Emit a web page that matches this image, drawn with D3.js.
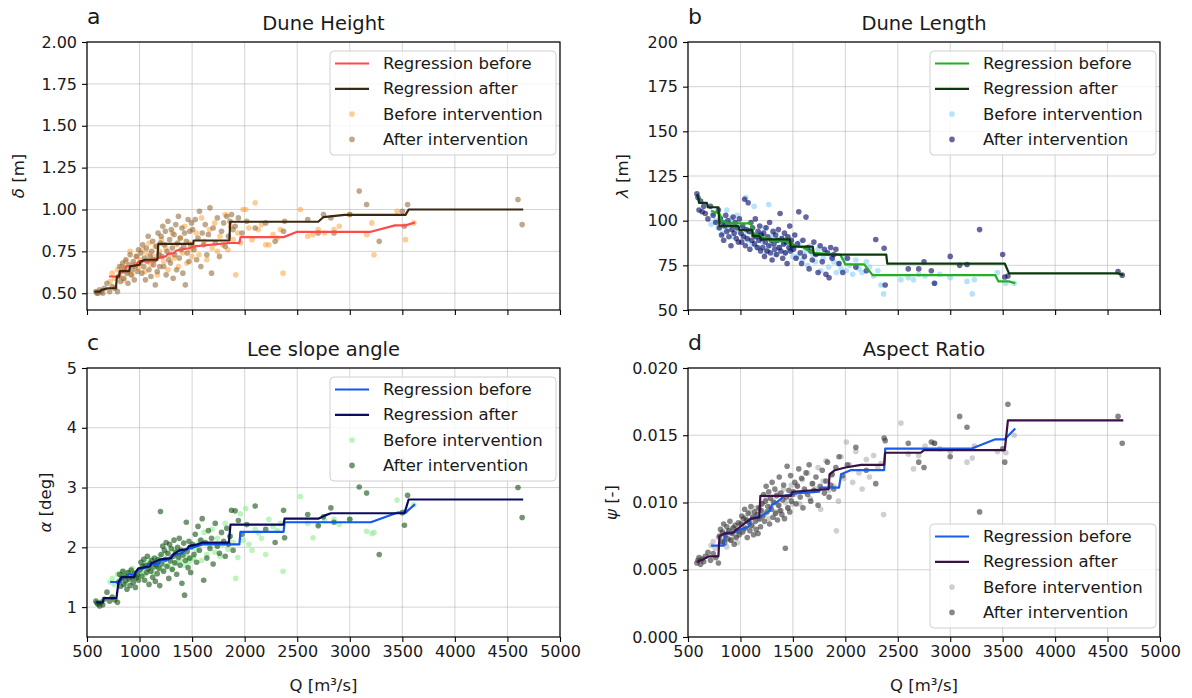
<!DOCTYPE html>
<html><head><meta charset="utf-8">
<script src="https://cdn.jsdelivr.net/npm/d3@7"></script>
<style>body{margin:0;background:#fff;} text{font-family:"DejaVu Sans",sans-serif;}</style>
</head><body><svg id="c" width="1192" height="698"></svg>
<script>
// ---------- data ----------
const xTicks = [500,1000,1500,2000,2500,3000,3500,4000,4500,5000];
const yTicksHeight = [0.5,0.75,1.0,1.25,1.5,1.75,2.0];
const yTicksLength = [50,75,100,125,150,175,200];
const yTicksAngle = [1,2,3,4,5];
const yTicksRatio = [0,0.005,0.01,0.015,0.02];

const qAfter = [585,595,605,620,635,650,665,690,715,740,765,790,
800,810,820,830,840,850,860,870,880,890,900,910,920,930,940,950,960,970,980,990,
1005,1013,1022,1030,1040,1048,1056,1065,1074,1082,1090,1100,1108,1116,1125,1134,1142,1150,1160,1168,1176,1184,1192,1199,
1205,1213,1221,1229,1237,1245,1253,1261,1270,1278,1286,1294,1302,1311,1320,1328,1336,1345,1353,1362,1370,1378,1386,1395,1403,1412,1420,1428,1436,1445,1453,1462,1470,1478,1486,1495,
1505,1518,1530,1543,1556,1570,1583,1596,1610,1625,1640,1655,1670,1685,1700,1720,1740,1760,1780,1800,1815,1830,1845,1860,1875,1890,
1910,1940,1975,2020,2100,2200,
2290,2370,2380,2600,2700,2750,2820,2850,3000,3090,3160,3280,3500,3520,3550,4600,4640];

const qBefore = [720,740,760,790,810,830,850,870,890,910,930,950,970,990,
1010,1030,1050,1070,1090,1110,1130,1150,1170,1190,1210,1230,1250,1270,1290,1310,1330,1350,1370,1390,1410,1430,1450,1470,1485,1498,
1515,1540,1565,1590,1615,1640,1665,1690,1715,1740,1765,1790,1815,1840,1865,1890,1915,1935,1960,1985,
2010,2040,2070,2100,2130,2160,2200,2230,2270,2310,2340,2365,
2530,2600,2650,2700,2760,2850,2900,3000,3160,3210,3230,3450,3530,3610];

const heightAfter = [0.51,0.50,0.50,0.52,0.51,0.50,0.53,0.56,0.51,0.54,0.53,0.51,
0.60,0.66,0.57,0.63,0.68,0.59,0.65,0.70,0.62,0.56,0.67,0.73,0.61,0.64,0.69,0.58,0.66,0.72,0.63,0.76,
0.68,0.74,0.62,0.79,0.66,0.71,0.58,0.77,0.69,0.84,0.64,0.72,0.60,0.75,0.81,0.67,0.70,0.55,0.78,0.63,0.86,0.73,0.66,0.80,
0.84,0.72,0.90,0.66,0.79,0.87,0.61,0.75,0.93,0.70,0.82,0.68,0.88,0.77,0.59,0.85,0.73,0.91,0.64,0.80,0.96,0.71,0.83,0.76,0.89,0.62,0.78,0.86,0.55,0.81,0.74,0.94,0.69,0.87,0.79,0.92,
0.88,0.76,0.94,0.70,0.83,0.99,0.66,0.86,0.79,0.91,0.73,0.85,1.01,0.62,0.89,0.80,0.95,0.72,0.87,0.92,0.78,0.96,0.84,0.93,0.97,0.88,
0.90,0.95,0.86,0.93,0.89,0.92,
0.81,0.87,0.93,0.94,0.86,0.97,0.95,0.86,0.97,1.11,1.03,0.81,0.99,0.90,1.03,1.06,0.91];
const heightBefore = [0.57,0.62,0.59,0.64,0.60,0.66,0.58,0.69,0.63,0.75,0.61,0.67,0.72,0.65,
0.70,0.76,0.63,0.74,0.80,0.67,0.72,0.78,0.61,0.75,0.82,0.69,0.77,0.64,0.73,0.86,0.71,0.79,0.66,0.83,0.74,0.90,0.68,0.80,0.76,0.72,
0.78,0.86,0.73,0.95,0.81,0.70,0.88,0.77,0.92,0.75,0.84,0.79,0.97,0.76,0.90,0.82,0.61,0.86,0.80,1.00,
1.00,0.89,0.82,1.04,0.88,0.91,0.79,0.79,0.85,0.83,0.88,0.62,
1.00,0.84,0.85,0.88,0.86,0.88,0.90,0.97,0.85,0.92,0.73,0.99,0.82,0.92];

const lengthAfter = [115,113,106,111,105,108,104,101,108,103,99,106,
96,101,92,99,89,97,103,94,100,91,98,86,95,102,93,99,90,96,88,101,
93,88,97,91,112,86,95,90,110,94,84,99,89,96,92,87,101,91,85,94,89,97,83,92,
90,85,93,80,88,96,83,91,86,99,82,89,78,94,87,84,92,81,89,95,85,104,83,90,79,87,93,82,88,76,91,85,97,83,89,86,
84,92,79,87,105,82,76,89,80,102,85,73,83,78,88,81,71,86,77,84,70,82,68,85,79,81,
84,76,71,79,74,72,
89.5,84.5,64,73,73,77,72,65,80,75,75.5,95,81,68.5,69,71.5,69.5];
const lengthBefore = [98,104,100,96,102,93,99,106,95,101,91,97,103,94,
96,92,113,89,94,87,108,91,85,93,88,96,83,109,86,92,81,89,85,90,87,82,90,84,88,80,
85,80,88,78,83,75,86,81,77,84,72,79,82,74,80,77,71,76,73,79,
72,75,70,78,73,71,77,74,69,72,64,59,
67,68,67,70,69,65,70,68,66,59,67,71,65,65];

const angleAfter = [1.10,1.07,1.05,1.02,1.08,1.04,1.13,1.25,1.10,1.17,1.12,1.08,
1.42,1.55,1.35,1.48,1.60,1.38,1.52,1.44,1.30,1.58,1.47,1.36,1.62,1.50,1.41,1.56,1.33,1.49,1.54,1.45,
1.62,1.75,1.52,1.68,1.80,1.45,1.70,1.58,1.85,1.64,1.38,1.73,1.60,1.78,1.50,1.67,1.82,1.43,1.71,1.56,1.79,1.65,1.36,2.60,
1.88,1.72,2.02,1.60,1.95,1.80,2.08,1.68,1.90,1.48,2.05,1.77,1.98,1.63,1.85,2.12,1.74,1.92,1.55,2.00,1.83,2.15,1.70,1.95,1.40,1.87,2.07,1.20,1.78,2.42,1.93,1.66,2.10,1.82,1.58,2.01,
2.05,1.88,2.22,1.75,2.35,1.95,2.12,2.48,1.45,2.08,1.82,2.28,1.98,2.15,1.72,2.40,2.02,1.90,2.25,2.10,1.85,2.32,2.05,2.18,2.62,1.95,
2.61,2.45,2.22,2.38,2.69,2.30,
2.08,2.62,2.16,2.55,2.36,2.51,2.66,2.42,2.47,3.01,2.91,1.88,2.58,2.37,2.87,3.00,2.50];
const angleBefore = [1.42,1.48,1.38,1.55,1.45,1.52,1.60,1.40,1.57,1.50,1.65,1.47,1.58,1.53,
1.62,1.70,1.55,1.75,1.66,1.80,1.58,1.72,1.68,1.85,1.63,1.77,1.90,1.70,1.82,1.65,1.95,1.74,1.86,1.78,1.92,1.70,1.84,1.76,2.00,1.80,
1.82,1.95,2.10,1.78,2.25,1.88,2.02,2.30,1.92,2.15,1.85,2.05,2.40,1.97,2.20,2.08,1.48,1.83,2.56,2.12,
2.65,2.05,1.95,2.30,2.24,2.15,1.88,2.47,2.35,2.28,2.40,1.60,
2.85,2.40,2.16,2.38,2.45,2.47,2.38,2.47,2.27,2.23,2.25,2.79,2.60,2.71];

const ratioAfter = [0.0055,0.0057,0.0059,0.0054,0.0058,0.0056,0.0060,0.0063,0.0057,0.0062,0.0059,0.0055,
0.0075,0.0080,0.0071,0.0078,0.0084,0.0070,0.0076,0.0082,0.0073,0.0079,0.0086,0.0072,0.0077,0.0081,0.0069,0.0083,0.0074,0.0079,0.0085,0.0076,
0.0084,0.0090,0.0078,0.0088,0.0095,0.0081,0.0087,0.0074,0.0092,0.0085,0.0079,0.0097,0.0083,0.0089,0.0076,0.0093,0.0086,0.0080,0.0091,0.0077,0.0096,0.0088,0.0082,0.0094,
0.0099,0.0090,0.0106,0.0086,0.0101,0.0112,0.0093,0.0097,0.0108,0.0084,0.0103,0.0095,0.0115,0.0089,0.0100,0.0110,0.0092,0.0105,0.0087,0.0098,0.0119,0.0094,0.0107,0.0091,0.0102,0.0113,0.0088,0.0066,0.0104,0.0127,0.0096,0.0109,0.0093,0.0120,0.0101,0.0106,
0.0108,0.0115,0.0099,0.0112,0.0125,0.0104,0.0118,0.0096,0.0110,0.0122,0.0106,0.0128,0.0101,0.0114,0.0109,0.0119,0.0098,0.0112,0.0124,0.0107,0.0116,0.0130,0.0104,0.0113,0.0121,0.0110,
0.0126,0.0134,0.0120,0.0128,0.0141,0.0124,
0.0114,0.0148,0.0146,0.0144,0.0130,0.0126,0.0145,0.0144,0.0134,0.0164,0.0156,0.0093,0.0140,0.0130,0.0173,0.0164,0.0144];
const ratioBefore = [0.0068,0.0071,0.0066,0.0074,0.0070,0.0077,0.0073,0.0067,0.0079,0.0072,0.0081,0.0075,0.0070,0.0078,
0.0084,0.0080,0.0089,0.0086,0.0093,0.0082,0.0090,0.0096,0.0087,0.0094,0.0099,0.0091,0.0103,0.0088,0.0097,0.0101,0.0093,0.0107,0.0098,0.0094,0.0110,0.0100,0.0096,0.0104,0.0113,0.0099,
0.0106,0.0113,0.0099,0.0117,0.0108,0.0122,0.0103,0.0114,0.0110,0.0126,0.0095,0.0116,0.0131,0.0109,0.0120,0.0112,0.0079,0.0101,0.0134,0.0118,
0.0145,0.0128,0.0115,0.0138,0.0122,0.0110,0.0132,0.0119,0.0135,0.0126,0.0129,0.0091,
0.0159,0.0136,0.0125,0.0135,0.0142,0.0144,0.0140,0.0138,0.0130,0.0133,0.0142,0.0138,0.0137,0.0150];

// regression lines (Q, value) vertices
const regHeightBefore = [[710,0.60],[805,0.60],[815,0.63],[860,0.63],[870,0.66],[960,0.665],[990,0.69],[1150,0.69],[1170,0.71],[1250,0.72],[1270,0.735],[1330,0.74],[1350,0.755],[1480,0.77],[1520,0.78],[1850,0.80],[1950,0.80],[1960,0.835],[2370,0.835],[2500,0.867],[3200,0.867],[3430,0.905],[3530,0.905],[3620,0.922]];
const regHeightAfter = [[570,0.51],[620,0.51],[640,0.52],[700,0.53],[775,0.53],[785,0.60],[805,0.60],[812,0.632],[900,0.632],[910,0.66],[1000,0.67],[1010,0.69],[1050,0.70],[1170,0.70],[1178,0.795],[1510,0.795],[1515,0.815],[1855,0.815],[1862,0.927],[2700,0.927],[2750,0.955],[2950,0.968],[3530,0.968],[3560,1.00],[4650,1.00]];
const regLengthBefore = [[720,105.5],[800,104],[820,100],[880,98.5],[1100,98.5],[1120,93],[1200,91],[1250,90],[1300,88.5],[1430,88.5],[1480,86.5],[1600,85],[1640,83.5],[1700,82],[1950,81],[1980,78],[2000,75.5],[2180,75.5],[2260,69.5],[3430,69.5],[3460,66],[3560,66],[3620,65]];
const regLengthAfter = [[590,115],[605,110],[680,110],[690,107.5],[790,107.5],[800,97],[980,97],[990,94.8],[1110,94.8],[1120,91.5],[1180,91.5],[1200,89.5],[1470,89.5],[1480,85.5],[1690,85.5],[1700,81],[2390,81],[2400,76],[3520,76],[3560,70.5],[4600,70.5],[4650,69.5]];
const regAngleBefore = [[720,1.42],[820,1.42],[835,1.50],[880,1.52],[900,1.55],[960,1.55],[980,1.62],[1050,1.65],[1080,1.72],[1180,1.72],[1200,1.78],[1280,1.80],[1300,1.85],[1400,1.90],[1450,1.97],[1550,2.02],[1600,2.05],[1950,2.05],[1960,2.26],[2370,2.26],[2380,2.42],[3200,2.42],[3450,2.58],[3530,2.58],[3620,2.72]];
const regAngleAfter = [[590,1.08],[650,1.08],[660,1.15],[780,1.15],[800,1.42],[830,1.50],[950,1.50],[960,1.58],[990,1.65],[1100,1.68],[1110,1.73],[1200,1.80],[1300,1.82],[1320,1.88],[1380,1.95],[1450,1.97],[1470,2.02],[1550,2.05],[1600,2.08],[1850,2.08],[1865,2.38],[2370,2.38],[2380,2.48],[2700,2.48],[2760,2.53],[2820,2.57],[3520,2.57],[3560,2.80],[4650,2.80]];
const regRatioBefore = [[720,0.0068],[840,0.0068],[850,0.0075],[870,0.0078],[950,0.0078],[1000,0.0080],[1080,0.0082],[1100,0.0088],[1200,0.0090],[1280,0.0094],[1300,0.0098],[1360,0.0101],[1420,0.0105],[1550,0.0107],[1750,0.0108],[1760,0.0111],[1940,0.0111],[1960,0.0121],[2050,0.0124],[2370,0.0124],[2380,0.0140],[3200,0.0140],[3430,0.0147],[3520,0.0147],[3620,0.0155]];
const regRatioAfter = [[590,0.0056],[650,0.0058],[700,0.0060],[790,0.0060],[800,0.0075],[850,0.0077],[920,0.0077],[950,0.0079],[1000,0.0082],[1050,0.0085],[1100,0.0088],[1180,0.0089],[1190,0.0105],[1480,0.0105],[1500,0.0108],[1840,0.0110],[1850,0.0121],[1900,0.0124],[2000,0.0126],[2150,0.0128],[2370,0.0128],[2380,0.0137],[2720,0.0137],[2750,0.0139],[3520,0.0139],[3550,0.0161],[4650,0.0161]];

const legendLabels = ["Regression before","Regression after","Before intervention","After intervention"];

// ---------- drawing ----------
const svg = d3.select('#c');
const FS = 16;      // tick labels
const FL = 16.5;    // legend / axis labels
const boxes = [
  {x0:87,x1:560,y0:42,y1:310},
  {x0:688,x1:1160,y0:42,y1:310},
  {x0:87,x1:560,y0:368,y1:637},
  {x0:688,x1:1160,y0:368,y1:637}
];
const panels = [
  {letter:'a', title:'Dune Height', sym:'δ', unit:' [m]', yDomain:[0.4,2.0], yTicks:yTicksHeight, yFmt:d3.format('.2f'),
   before:heightBefore, after:heightAfter, regB:regHeightBefore, regA:regHeightAfter,
   cLB:'#ff4a4a', cLA:'#3a2812', cPB:'#ff9a2a', oPB:0.5, cPA:'#8b6030', oPA:0.55, legTop:true, xLab:false, ylx:18},
  {letter:'b', title:'Dune Length', sym:'λ', unit:' [m]', yDomain:[50,200], yTicks:yTicksLength, yFmt:d3.format('d'),
   before:lengthBefore, after:lengthAfter, regB:regLengthBefore, regA:regLengthAfter,
   cLB:'#22b022', cLA:'#0b380b', cPB:'#87cefa', oPB:0.6, cPA:'#000060', oPA:0.6, legTop:true, xLab:false, ylx:622},
  {letter:'c', title:'Lee slope angle', sym:'α', unit:' [deg]', yDomain:[0.5,5], yTicks:yTicksAngle, yFmt:d3.format('d'),
   before:angleBefore, after:angleAfter, regB:regAngleBefore, regA:regAngleAfter,
   cLB:'#1058f0', cLA:'#0a0a5e', cPB:'#90ee90', oPB:0.6, cPA:'#0a4a0a', oPA:0.58, legTop:true, xLab:true, ylx:45},
  {letter:'d', title:'Aspect Ratio', sym:'ψ', unit:' [-]', yDomain:[0,0.02], yTicks:yTicksRatio, yFmt:d3.format('.3f'),
   before:ratioBefore, after:ratioAfter, regB:regRatioBefore, regA:regRatioAfter,
   cLB:'#1a5de8', cLA:'#3a1046', cPB:'#a0a0a0', oPB:0.5, cPA:'#303030', oPA:0.58, legTop:false, xLab:true, ylx:611}
];

panels.forEach((p,i)=>{
  const b = boxes[i];
  const g = svg.append('g');
  const x = d3.scaleLinear().domain([500,5000]).range([b.x0,b.x1]);
  const y = d3.scaleLinear().domain(p.yDomain).range([b.y1,b.y0]);

  // grid
  g.append('g').selectAll('line').data(xTicks).join('line')
    .attr('x1',d=>x(d)).attr('x2',d=>x(d)).attr('y1',b.y0).attr('y2',b.y1)
    .attr('stroke','#b0b0b0').attr('stroke-opacity',0.55).attr('stroke-width',1);
  g.append('g').selectAll('line').data(p.yTicks).join('line')
    .attr('y1',d=>y(d)).attr('y2',d=>y(d)).attr('x1',b.x0).attr('x2',b.x1)
    .attr('stroke','#b0b0b0').attr('stroke-opacity',0.55).attr('stroke-width',1);

  const cid = 'clip'+p.letter;
  svg.append('clipPath').attr('id',cid).append('rect')
    .attr('x',b.x0).attr('y',b.y0).attr('width',b.x1-b.x0).attr('height',b.y1-b.y0);
  const pg = g.append('g').attr('clip-path',`url(#${cid})`);

  pg.append('g').selectAll('circle').data(d3.zip(qBefore,p.before)).join('circle')
    .attr('cx',d=>x(d[0])).attr('cy',d=>y(d[1])).attr('r',2.8)
    .attr('fill',p.cPB).attr('fill-opacity',p.oPB);
  pg.append('g').selectAll('circle').data(d3.zip(qAfter,p.after)).join('circle')
    .attr('cx',d=>x(d[0])).attr('cy',d=>y(d[1])).attr('r',2.8)
    .attr('fill',p.cPA).attr('fill-opacity',p.oPA);

  const line = d3.line().x(d=>x(d[0])).y(d=>y(d[1]));
  pg.append('path').attr('d',line(p.regB)).attr('fill','none').attr('stroke',p.cLB)
    .attr('stroke-width',2.2).attr('stroke-linejoin','round');
  pg.append('path').attr('d',line(p.regA)).attr('fill','none').attr('stroke',p.cLA)
    .attr('stroke-width',2.2).attr('stroke-linejoin','round');

  // axes
  const ax = g.append('g').attr('transform',`translate(0,${b.y1})`)
    .call(d3.axisBottom(x).tickValues(xTicks).tickSize(5).tickPadding(4)
      .tickFormat(p.xLab ? d3.format('d') : ()=>''));
  const ay = g.append('g').attr('transform',`translate(${b.x0},0)`)
    .call(d3.axisLeft(y).tickValues(p.yTicks).tickSize(5).tickPadding(5).tickFormat(p.yFmt));
  [ax,ay].forEach(a=>{
    a.select('.domain').remove();
    a.selectAll('.tick line').attr('stroke','#000').attr('stroke-width',1.1);
    a.selectAll('.tick text').attr('font-size',FS).attr('fill','#1a1a1a').attr('font-family','DejaVu Sans');
  });
  g.append('rect').attr('x',b.x0).attr('y',b.y0).attr('width',b.x1-b.x0).attr('height',b.y1-b.y0)
    .attr('fill','none').attr('stroke','#000').attr('stroke-width',1.2);

  // title & letter
  g.append('text').attr('x',(b.x0+b.x1)/2).attr('y',b.y0-12).attr('text-anchor','middle')
    .attr('font-size',19.5).attr('fill','#1a1a1a').text(p.title);
  g.append('text').attr('x',b.x0).attr('y',b.y0-18).attr('font-size',22).attr('fill','#1a1a1a').text(p.letter);

  // y label
  const yl = g.append('text').attr('transform',`translate(${p.ylx},${(b.y0+b.y1)/2}) rotate(-90)`)
    .attr('text-anchor','middle').attr('dominant-baseline','central').attr('font-size',FL).attr('fill','#1a1a1a');
  yl.append('tspan').attr('font-style','italic').text(p.sym);
  yl.append('tspan').text(p.unit);

  if (p.xLab) {
    g.append('text').attr('x',(b.x0+b.x1)/2).attr('y',691).attr('text-anchor','middle')
      .attr('font-size',FL).attr('fill','#1a1a1a').text('Q [m³/s]');
  }

  // legend
  const LW = 226, LH = 104;
  const lx = b.x1 - 4 - LW;
  const ly = p.legTop ? b.y0 + 9 : b.y1 - 9 - LH;
  const lg = g.append('g').attr('transform',`translate(${lx},${ly})`);
  lg.append('rect').attr('width',LW).attr('height',LH).attr('rx',4)
    .attr('fill','#fff').attr('fill-opacity',0.8).attr('stroke','#d0d0d0').attr('stroke-width',1);
  const rows = [12.5,37.8,63.1,88.4];
  const lineCols = [p.cLB,p.cLA];
  [0,1].forEach(k=>{
    lg.append('line').attr('x1',5).attr('x2',39).attr('y1',rows[k]).attr('y2',rows[k])
      .attr('stroke',lineCols[k]).attr('stroke-width',2.2);
  });
  lg.append('circle').attr('cx',22).attr('cy',rows[2]).attr('r',2.8).attr('fill',p.cPB).attr('fill-opacity',p.oPB);
  lg.append('circle').attr('cx',22).attr('cy',rows[3]).attr('r',2.8).attr('fill',p.cPA).attr('fill-opacity',p.oPA);
  legendLabels.forEach((t,k)=>{
    lg.append('text').attr('x',53).attr('y',rows[k]).attr('dominant-baseline','central')
      .attr('font-size',FL).attr('fill','#1a1a1a').text(t);
  });
});
</script></body></html>
